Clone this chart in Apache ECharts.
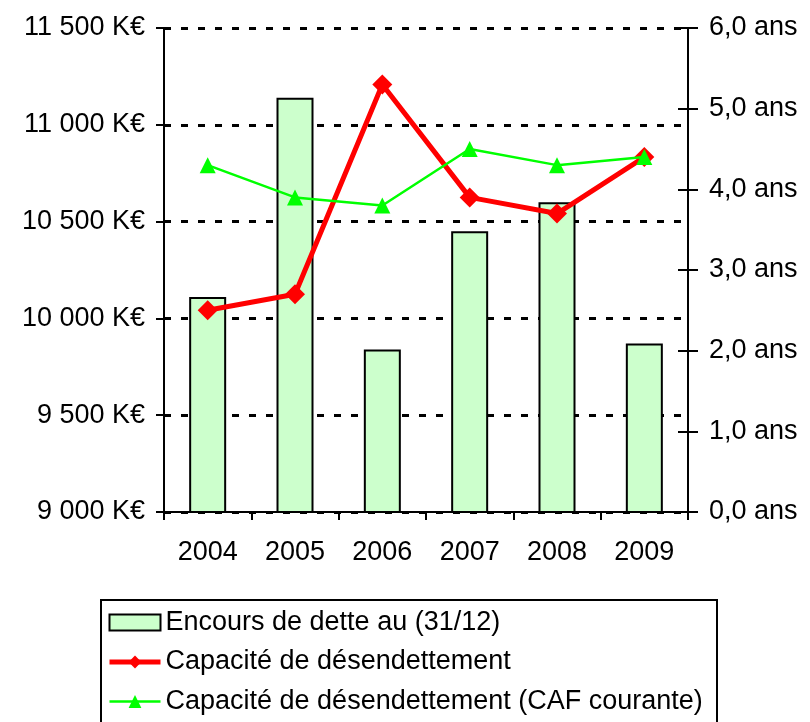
<!DOCTYPE html>
<html>
<head>
<meta charset="utf-8">
<script src="https://cdn.jsdelivr.net/npm/echarts@6/dist/echarts.min.js"></script>
<style>
html,body{margin:0;padding:0;background:#fff;}
#main{width:810px;height:722px;}
</style>
</head>
<body>
<div id="main"></div>
<script>
// données
var annees = ['2004', '2005', '2006', '2007', '2008', '2009'];
var encours = [10110, 11140, 9840, 10450, 10600, 9870];
var capacite = [2.5, 2.7, 5.3, 3.9, 3.7, 4.4];
var capaciteCaf = [4.3, 3.9, 3.8, 4.5, 4.3, 4.4];

var nomEncours = 'Encours de dette au (31/12)';
var nomCapa = 'Capacité de désendettement';
var nomCaf = 'Capacité de désendettement (CAF courante)';

var police = 'Liberation Sans, Arial, sans-serif';

function fmtKE(v){
	var s;
	if(v >= 1000){
		s = Math.floor(v / 1000) + ' ' + String(v % 1000).padStart(3, '0');
	} else {
		s = String(v);
	}
	return s + ' K€';
}
function fmtAns(v){
	return v.toFixed(1).replace('.', ',') + ' ans';
}

var chart = echarts.init(document.getElementById('main'));

var option = {
	animation: false,
	backgroundColor: '#fff',
	textStyle: {fontFamily: police},
	grid: {left: 164, right: 122, top: 28, bottom: 210},
	legend: {
		orient: 'vertical',
		left: 107,
		top: 609,
		padding: 0,
		itemWidth: 51,
		itemHeight: 16,
		itemGap: 12.5,
		textStyle: {fontSize: 27, lineHeight: 27, color: '#000', fontFamily: police},
		data: [
			{name: nomEncours, icon: 'rect'},
			{name: nomCapa, lineStyle: {width: 5}},
			{name: nomCaf, lineStyle: {width: 2.5}}
		]
	},
	graphic: [{
		type: 'rect',
		shape: {x: 101, y: 600, width: 616, height: 130},
		style: {fill: 'none', stroke: '#000', lineWidth: 2},
		z: 0
	}],
	xAxis: {
		type: 'category',
		data: annees,
		boundaryGap: true,
		axisLine: {lineStyle: {color: '#000', width: 2}},
		axisTick: {show: true, length: 8, lineStyle: {color: '#000', width: 2}},
		axisLabel: {fontSize: 27, color: '#000', margin: 27, fontFamily: police}
	},
	yAxis: [{
		type: 'value',
		position: 'left',
		min: 9000,
		max: 11500,
		interval: 500,
		axisLine: {show: true, lineStyle: {color: '#000', width: 2}},
		axisTick: {show: true, length: 8, lineStyle: {color: '#000', width: 2}},
		axisLabel: {fontSize: 27, color: '#000', margin: 19, formatter: fmtKE, fontFamily: police},
		splitLine: {show: true, lineStyle: {color: '#000', width: 3, type: [7, 10]}}
	}, {
		type: 'value',
		position: 'right',
		min: 0,
		max: 6,
		interval: 1,
		axisLine: {show: true, lineStyle: {color: '#000', width: 2}},
		axisTick: {show: true, length: 10, lineStyle: {color: '#000', width: 2}},
		axisLabel: {fontSize: 27, color: '#000', margin: 21, formatter: fmtAns, fontFamily: police},
		splitLine: {show: false}
	}, {
		type: 'value',
		position: 'right',
		min: 0,
		max: 6,
		interval: 1,
		axisLine: {show: false},
		axisTick: {show: true, inside: true, length: 10, lineStyle: {color: '#000', width: 2}},
		axisLabel: {show: false},
		splitLine: {show: false}
	}],
	series: [{
		name: nomEncours,
		type: 'bar',
		yAxisIndex: 0,
		data: encours,
		barWidth: 37,
		itemStyle: {color: '#CCFFCC', borderColor: '#000', borderWidth: 2}
	}, {
		name: nomCapa,
		type: 'line',
		yAxisIndex: 1,
		data: capacite,
		symbol: 'diamond',
		symbolSize: 20,
		lineStyle: {color: '#FF0000', width: 5},
		itemStyle: {color: '#FF0000'},
		z: 3
	}, {
		name: nomCaf,
		type: 'line',
		yAxisIndex: 1,
		data: capaciteCaf,
		symbol: 'triangle',
		symbolSize: 16,
		lineStyle: {color: '#00FF00', width: 2.5},
		itemStyle: {color: '#00FF00'},
		z: 4
	}]
};

chart.setOption(option);
</script>
</body>
</html>
